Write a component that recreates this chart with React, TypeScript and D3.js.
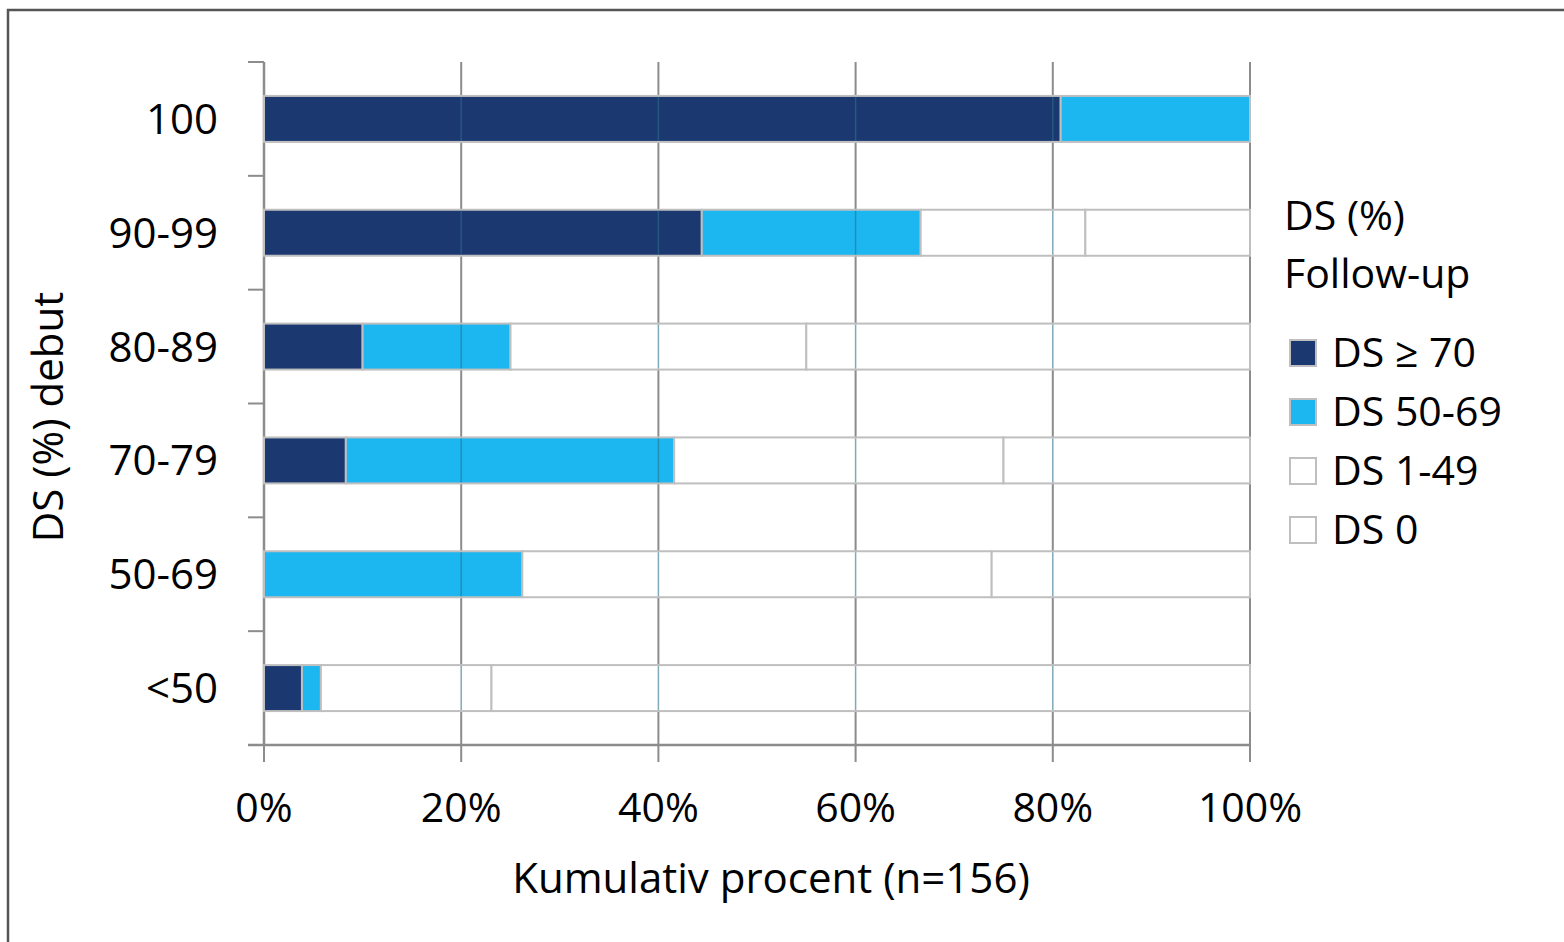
import * as d3 from 'd3';

// Categories (DS % at debut), top to bottom
const categories = ['100', '90-99', '80-89', '70-79', '50-69', '<50'];

// Share (%) in each follow-up DS group, per debut category
const dsOver70 = [80.8, 44.4, 10.0, 8.3, 0, 3.85];
const ds50to69 = [19.2, 22.2, 15.0, 33.3, 26.2, 1.92];
const ds1to49 = [0, 16.7, 30.0, 33.4, 47.6, 17.3];
const ds0 = [0, 16.7, 45.0, 25.0, 26.2, 76.93];

const seriesNames = ['DS \u2265 70', 'DS 50-69', 'DS 1-49', 'DS 0'];
const seriesKeys = ['a', 'b', 'c', 'd'];
const xTicks = [0, 20, 40, 60, 80, 100];

const COLORS = ['#1b3870', '#1cb7f0', '#ffffff', '#ffffff'];
const FONT = '"Open Sans", "Noto Sans", sans-serif';

const W = 1564;
const H = 942;
const margin = { left: 264, right: 314, top: 62, bottom: 197 };

export default function App() {
  const table = categories.map((c, i) => ({
    cat: c,
    a: dsOver70[i],
    b: ds50to69[i],
    c: ds1to49[i],
    d: ds0[i],
  }));

  const x = d3
    .scaleLinear()
    .domain([0, 100])
    .range([margin.left, W - margin.right]);

  const y = d3
    .scaleBand()
    .domain(categories)
    .range([margin.top, H - margin.bottom])
    .paddingInner(0.596)
    .paddingOuter(0.298);

  const stacked = d3.stack<any>().keys(seriesKeys)(table);

  const step = y.step();
  const boundaries = d3.range(categories.length + 1).map((i) => margin.top + i * step);
  const axisY = H - margin.bottom;

  return (
    <svg
      width={W}
      height={H}
      style={{ position: 'absolute', left: 0, top: 0, background: '#fff' }}
      fontFamily={FONT}
    >
      {/* outer frame (cropped) */}
      <rect x={8} y={10} width={W + 20} height={H + 20} fill="#fff" stroke="#555" strokeWidth={2.5} />

      {/* vertical grid */}
      {xTicks.map((t) => (
        <line key={'g' + t} x1={x(t)} x2={x(t)} y1={margin.top} y2={axisY + 17} stroke="#8c8c8c" strokeWidth={2} />
      ))}

      {/* y axis ticks */}
      <line x1={x(0)} x2={x(0)} y1={margin.top} y2={axisY} stroke="#8c8c8c" strokeWidth={2.5} />
      {boundaries.map((b, i) => (
        <line key={'yt' + i} x1={x(0) - 16} x2={x(0)} y1={b} y2={b} stroke="#8c8c8c" strokeWidth={2} />
      ))}

      {/* bars */}
      {stacked.map((s, si) => (
        <g key={s.key}>
          {s.map((d, i) =>
            d[1] - d[0] > 0 ? (
              <rect
                key={i}
                x={x(d[0])}
                y={y(categories[i])}
                width={x(d[1]) - x(d[0])}
                height={y.bandwidth()}
                fill={COLORS[si]}
                stroke="#bfbfbf"
                strokeWidth={2}
              />
            ) : null
          )}
        </g>
      ))}

      {/* grid showing through bars */}
      {categories.map((c) =>
        xTicks
          .filter((t) => t > 0 && t < 100)
          .map((t) => (
            <line
              key={c + t}
              x1={x(t)}
              x2={x(t)}
              y1={(y(c) as number) + 1}
              y2={(y(c) as number) + y.bandwidth() - 1}
              stroke="#2b6f8c"
              strokeOpacity={0.6}
              strokeWidth={1.5}
            />
          ))
      )}

      {/* x axis */}
      <line x1={x(0) - 16} x2={x(100)} y1={axisY} y2={axisY} stroke="#8c8c8c" strokeWidth={2.5} />

      {/* x tick labels */}
      {xTicks.map((t) => (
        <text key={'xl' + t} x={x(t)} y={822} textAnchor="middle" fontSize={41} fill="#000">
          {t + '%'}
        </text>
      ))}

      {/* y tick labels */}
      {categories.map((c) => (
        <text
          key={'yl' + c}
          x={218}
          y={(y(c) as number) + y.bandwidth() / 2 + 15}
          textAnchor="end"
          fontSize={42}
          fill="#000"
        >
          {c}
        </text>
      ))}

      {/* axis titles */}
      <text x={771} y={893} textAnchor="middle" fontSize={42} fill="#000">
        Kumulativ procent (n=156)
      </text>
      <text transform="translate(63,417) rotate(-90)" textAnchor="middle" fontSize={42} fill="#000">
        DS (%) debut
      </text>

      {/* legend */}
      <text x={1284} y={230} fontSize={41} fill="#000">DS (%)</text>
      <text x={1284} y={288} fontSize={41} fill="#000">Follow-up</text>
      {seriesNames.map((n, i) => (
        <g key={n} transform={`translate(1290, ${367 + i * 59})`}>
          <rect x={0} y={-27} width={26} height={26} fill={COLORS[i]} stroke="#bfbfbf" strokeWidth={2} />
          <text x={42} y={0} fontSize={41} fill="#000">{n}</text>
        </g>
      ))}
    </svg>
  );
}
